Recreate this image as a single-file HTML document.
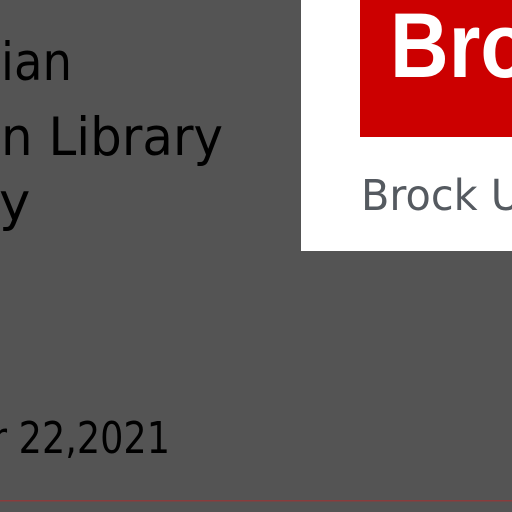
<!DOCTYPE html>
<html><head><style>
html,body{margin:0;padding:0;width:512px;height:512px;overflow:hidden;background:#545454;}
</style></head><body>
<svg width="512" height="512" xmlns="http://www.w3.org/2000/svg" style="display:block">
<rect width="512" height="512" fill="#545454"/>
<rect x="301" y="0" width="211" height="251" fill="#fff"/>
<rect x="360" y="0" width="152" height="137" fill="#cc0000"/>
<text x="390" y="77" font-family="Liberation Sans, sans-serif" font-weight="bold" font-size="92" fill="#fff" textLength="140" lengthAdjust="spacingAndGlyphs">Bro</text>
<text x="361" y="210" font-family="DejaVu Sans, sans-serif" font-size="43" fill="#555a60" textLength="160" lengthAdjust="spacingAndGlyphs">Brock U</text>
<g font-family="DejaVu Sans, sans-serif" fill="#000">
<text x="1" y="80" font-size="53" textLength="71" lengthAdjust="spacingAndGlyphs">ian</text>
<text x="1" y="155" font-size="53" textLength="222" lengthAdjust="spacingAndGlyphs">n Library</text>
<text x="-1" y="220" font-size="53">y</text>
<text x="-8" y="453" font-size="44" textLength="178" lengthAdjust="spacingAndGlyphs">r 22,2021</text>
</g>
<rect x="0" y="500" width="512" height="1.5" fill="#8a3c3c"/>
</svg>
</body></html>
